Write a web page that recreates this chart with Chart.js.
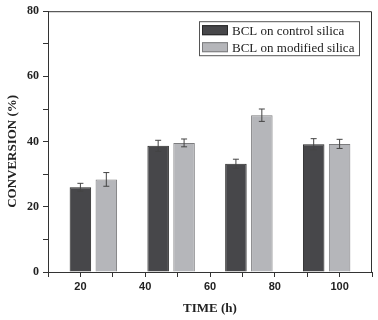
<!DOCTYPE html>
<html lang="en">
<head>
  <meta charset="UTF-8" />
  <title>BCL conversion</title>
  <script src="https://cdn.jsdelivr.net/npm/chart.js"></script>
  <style>
    html, body { margin: 0; padding: 0; background: #fff; }
    #wrap { width: 378px; height: 320px; }
  </style>
</head>
<body>
  <div id="wrap"><canvas id="grafik"></canvas></div>

  <script>
    // data
    const times = [24, 48, 72, 96];
    const controlVals = [26.0, 38.7, 33.2, 39.2];
    const controlErr = [1.2, 1.7, 1.4, 1.7];
    const modifiedVals = [28.4, 39.6, 48.1, 39.3];
    const modifiedErr = [2.1, 1.2, 1.9, 1.4];
    const seriesNames = ['BCL on control silica', 'BCL on modified silica'];

    const serif = "'Liberation Serif', 'Times New Roman', serif";
    const sans = "'Liberation Sans', Arial, sans-serif";

    const toPoints = (vals) => times.map((t, i) => ({ x: t, y: vals[i] }));

    // error bars drawn from the bar elements + y scale
    const errorBars = {
      id: 'errorBars',
      afterDatasetsDraw(chart) {
        const ctx = chart.ctx;
        const y = chart.scales.y;
        chart.data.datasets.forEach((ds, i) => {
          const meta = chart.getDatasetMeta(i);
          meta.data.forEach((bar, j) => {
            const v = ds.data[j].y, e = ds.errors[j];
            const top = y.getPixelForValue(v + e);
            const bot = y.getPixelForValue(v - e);
            ctx.save();
            ctx.strokeStyle = '#444';
            ctx.lineWidth = 1;
            ctx.beginPath();
            ctx.moveTo(bar.x, top); ctx.lineTo(bar.x, bot);
            ctx.moveTo(bar.x - 3, top); ctx.lineTo(bar.x + 3, top);
            ctx.moveTo(bar.x - 3, bot); ctx.lineTo(bar.x + 3, bot);
            ctx.stroke();
            ctx.restore();
          });
        });
      }
    };

    // top + right frame lines and the boxed legend
    const frameLegend = {
      id: 'frameLegend',
      afterDraw(chart) {
        const ctx = chart.ctx;
        const a = chart.chartArea;
        ctx.save();
        ctx.strokeStyle = '#333';
        ctx.lineWidth = 1;
        ctx.beginPath();
        ctx.moveTo(a.left, a.top + 0.5); ctx.lineTo(a.right - 0.5, a.top + 0.5); ctx.lineTo(a.right - 0.5, a.bottom);
        ctx.stroke();

        const bx = a.left + 151, by = a.top + 10, bw = 160, bh = 34;
        ctx.strokeStyle = '#555';
        ctx.strokeRect(bx + 0.5, by + 0.5, bw, bh);
        ctx.font = '13px ' + serif;
        ctx.textBaseline = 'middle';
        chart.data.datasets.forEach((ds, i) => {
          const ry = by + 9 + i * 17;
          ctx.fillStyle = ds.backgroundColor;
          ctx.fillRect(bx + 3, ry - 5, 26, 10);
          ctx.strokeStyle = ds.borderColor;
          ctx.strokeRect(bx + 3.5, ry - 4.5, 25, 9);
          ctx.fillStyle = '#222';
          ctx.fillText(ds.label, bx + 33, ry + 1);
        });
        ctx.restore();
      }
    };

    new Chart(document.getElementById('grafik'), {
      type: 'bar',
      data: {
        datasets: [
          {
            label: seriesNames[0],
            data: toPoints(controlVals),
            errors: controlErr,
            backgroundColor: '#47474a',
            borderColor: '#262626',
            borderWidth: 1,
            categoryPercentage: 1.6,
            barPercentage: 0.83
          },
          {
            label: seriesNames[1],
            data: toPoints(modifiedVals),
            errors: modifiedErr,
            backgroundColor: '#b5b6ba',
            borderColor: '#7c7c7e',
            borderWidth: 1,
            categoryPercentage: 1.6,
            barPercentage: 0.83
          }
        ]
      },
      options: {
        responsive: true,
        maintainAspectRatio: false,
        animation: false,
        layout: { padding: { top: 11, right: 6, left: 0, bottom: 0 } },
        plugins: {
          legend: { display: false },
          tooltip: { enabled: false }
        },
        scales: {
          x: {
            type: 'linear',
            min: 10,
            max: 110,
            offset: false,
            afterFit: (s) => { s.height = 48; },
            grid: { offset: false, drawOnChartArea: false, color: '#333', tickLength: 5 },
            border: { color: '#333' },
            ticks: {
              stepSize: 10,
              autoSkip: false,
              maxRotation: 0,
              padding: 3,
              color: '#222',
              font: { family: sans, size: 11, weight: 'bold' },
              callback: (v) => (v % 20 === 0 ? v : '')
            },
            title: {
              display: true,
              text: 'TIME (h)',
              color: '#222',
              font: { family: serif, size: 13, weight: 'bold' },
              padding: { top: 0, bottom: 4 }
            }
          },
          y: {
            min: 0,
            max: 80,
            afterFit: (s) => { s.width = 48; },
            grid: { drawOnChartArea: false, color: '#333', tickLength: 5 },
            border: { color: '#333' },
            ticks: {
              stepSize: 10,
              autoSkip: false,
              padding: 4,
              color: '#222',
              font: { family: serif, size: 12, weight: 'bold' },
              callback: (v) => (v % 20 === 0 ? v : '')
            },
            title: {
              display: true,
              // trailing spaces push the title a little below the axis middle, like the original
              text: 'CONVERSION (%)      ',
              color: '#222',
              font: { family: serif, size: 13, weight: 'bold' },
              padding: { top: 5, bottom: 0 }
            }
          }
        }
      },
      plugins: [errorBars, frameLegend]
    });
  </script>
</body>
</html>
